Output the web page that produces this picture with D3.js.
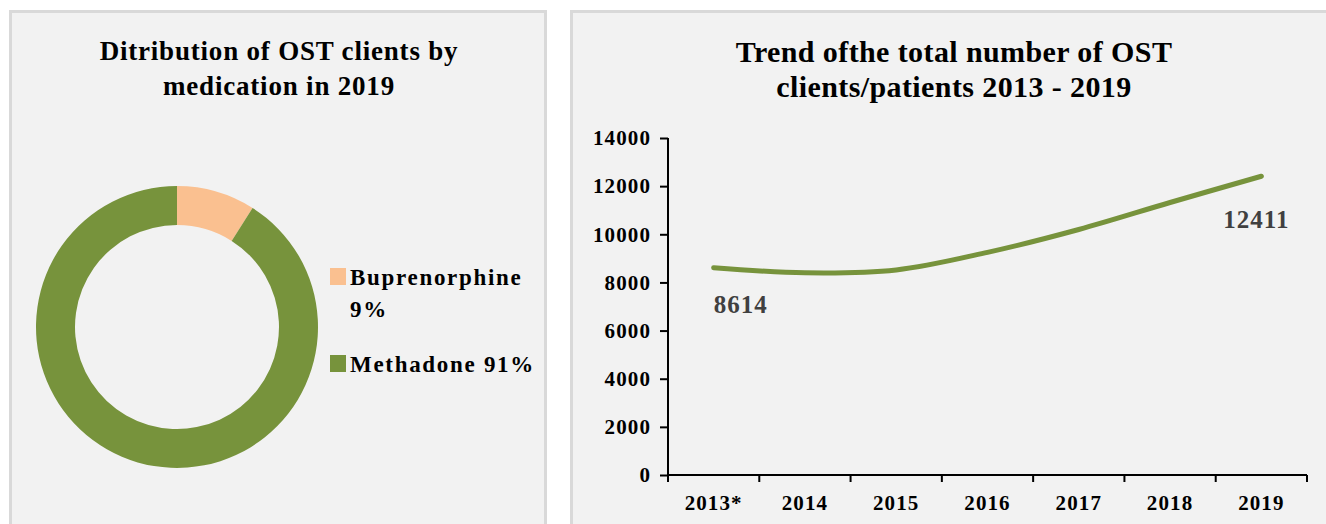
<!DOCTYPE html>
<html>
<head>
<meta charset="utf-8">
<script src="https://cdn.jsdelivr.net/npm/d3@7"></script>
<style>
  body { margin: 0; background: #ffffff; }
  svg { display: block; }
  svg text { font-family: 'Liberation Serif', 'Times New Roman', Times, 'DejaVu Serif', serif; font-weight: bold; }
</style>
</head>
<body>
<div id="chart"></div>
<script>
// Donut data
const medications = ['Buprenorphine', 'Methadone'];
const medicationShares = [9, 91];
const medicationColors = ['#fac090', '#77933c'];

// Trend data
const years = ['2013*', '2014', '2015', '2016', '2017', '2018', '2019'];
const clients = [8614, 8400, 8520, 9250, 10200, 11320, 12411];
const yTicks = [0, 2000, 4000, 6000, 8000, 10000, 12000, 14000];

const W = 1326, H = 524;

const svg = d3.select('#chart').append('svg')
  .attr('width', W).attr('height', H);

// Panels
svg.append('rect')
  .attr('x', 10.5).attr('y', 11.5).attr('width', 535).attr('height', 530)
  .attr('fill', '#f2f2f2').attr('stroke', '#d9d9d9').attr('stroke-width', 3);
svg.append('rect')
  .attr('x', 571.5).attr('y', 11.5).attr('width', 770).attr('height', 530)
  .attr('fill', '#f2f2f2').attr('stroke', '#d9d9d9').attr('stroke-width', 3);

function title(x, lines, y0, dy, size, ls) {
  lines.forEach((t, i) => {
    svg.append('text')
      .attr('x', x).attr('y', y0 + i * dy)
      .attr('text-anchor', 'middle')
      .style('font-size', size + 'px')
      .style('letter-spacing', ls + 'px')
      .attr('fill', '#000')
      .text(t);
  });
}

// ---- Left: donut ----
title(279, ['Ditribution of OST clients by', 'medication in 2019'], 60, 35, 27, 0.8);

const cx = 177, cy = 327;
const pie = d3.pie().sort(null).value(d => d)(medicationShares);
const arc = d3.arc().innerRadius(102).outerRadius(141);

const donut = svg.append('g').attr('transform', `translate(${cx},${cy})`);
donut.selectAll('path')
  .data(pie)
  .join('path')
  .attr('d', arc)
  .attr('fill', (d, i) => medicationColors[i]);

// Legend
const legendItems = [
  { lines: [medications[0], medicationShares[0] + '%'], y: 285 },
  { lines: [medications[1] + ' ' + medicationShares[1] + '%'], y: 372 }
];
legendItems.forEach((it, i) => {
  svg.append('rect')
    .attr('x', 330).attr('y', it.y - 17)
    .attr('width', 16).attr('height', 17)
    .attr('fill', medicationColors[i]);
  it.lines.forEach((ln, li) => {
    svg.append('text')
      .attr('x', 350).attr('y', it.y + li * 32)
      .style('font-size', '23px')
      .style('letter-spacing', '1.7px')
      .attr('fill', '#000')
      .text(ln);
  });
});

// ---- Right: line chart ----
title(954, ['Trend ofthe total number of OST', 'clients/patients 2013 - 2019'], 62, 35, 30, 0.4);

const plot = { left: 668, right: 1307, top: 138, bottom: 475 };
const x = d3.scaleBand().domain(years).range([plot.left, plot.right]);
const y = d3.scaleLinear().domain([0, 14000]).range([plot.bottom, plot.top]);

const yAxis = svg.append('g')
  .attr('transform', `translate(${plot.left},0)`)
  .call(d3.axisLeft(y).tickValues(yTicks).tickSize(6).tickPadding(11).tickFormat(d3.format('d')));
const xAxis = svg.append('g')
  .attr('transform', `translate(0,${plot.bottom})`)
  .call(d3.axisBottom(x).tickSize(0).tickPadding(20));

// x ticks at band boundaries
const bounds = years.map(d => x(d)).concat([plot.right]);
xAxis.selectAll('.bound')
  .data(bounds)
  .join('line')
  .attr('class', 'bound')
  .attr('x1', d => d).attr('x2', d => d)
  .attr('y1', 0).attr('y2', 7)
  .attr('stroke', '#000').attr('stroke-width', 2);

[yAxis, xAxis].forEach(a => {
  a.select('.domain').attr('stroke', '#000').attr('stroke-width', 2);
  a.selectAll('.tick line').attr('stroke', '#000').attr('stroke-width', 2);
  a.selectAll('text')
    .style('font-size', '21px')
    .style('letter-spacing', '1.1px')
    .attr('fill', '#000');
});
yAxis.select('.domain').attr('d', `M0,${plot.bottom}V${plot.top}`);
yAxis.selectAll('.tick line').attr('x2', -8);
xAxis.select('.domain').attr('d', `M${plot.left},0H${plot.right}`);

const line = d3.line()
  .x((d, i) => x(years[i]) + x.bandwidth() / 2)
  .y(d => y(d))
  .curve(d3.curveCatmullRom.alpha(0.5));

svg.append('path')
  .datum(clients)
  .attr('d', line)
  .attr('fill', 'none')
  .attr('stroke', '#77933c')
  .attr('stroke-width', 5)
  .attr('stroke-linecap', 'round');

// Data labels (first and last)
[0, clients.length - 1].forEach(i => {
  svg.append('text')
    .attr('x', x(years[i]) + x.bandwidth() / 2 + (i === 0 ? 0 : -5))
    .attr('y', y(clients[i]) + (i === 0 ? 45 : 52))
    .attr('text-anchor', i === 0 ? 'start' : 'middle')
    .style('font-size', '25px')
    .style('letter-spacing', '1px')
    .attr('fill', '#404040')
    .text(clients[i]);
});
</script>
</body>
</html>
